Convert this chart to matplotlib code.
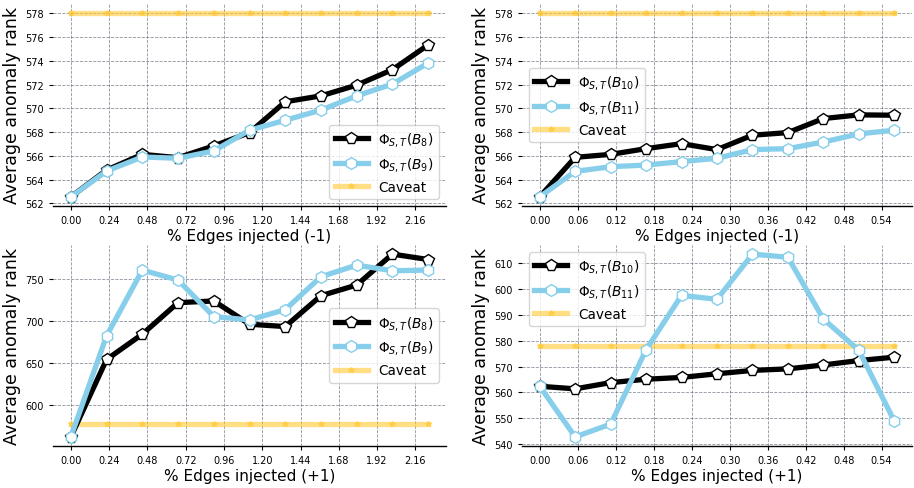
import numpy as np
import matplotlib
matplotlib.use('Agg')
import matplotlib.pyplot as plt

# Fraction of edges injected (%), 11 steps per experiment
x_b8 = np.linspace(0, 2.24, 11)
x_b10 = np.linspace(0, 0.56, 11)

# Average anomaly rank, edges injected with weight -1
b8_neg = [562.56, 564.81, 566.13, 565.85, 566.84, 567.96, 570.55, 571.05, 571.95, 573.25, 575.33]
b9_neg = [562.56, 564.73, 565.91, 565.80, 566.42, 568.16, 569.00, 569.85, 571.05, 572.04, 573.81]
b10_neg = [562.56, 565.88, 566.13, 566.61, 567.03, 566.53, 567.74, 567.96, 569.14, 569.45, 569.42]
b11_neg = [562.56, 564.70, 565.09, 565.23, 565.52, 565.80, 566.53, 566.61, 567.17, 567.85, 568.16]

# Average anomaly rank, edges injected with weight +1
b8_pos = [562.4, 654.6, 684.7, 722.3, 724.3, 696.6, 693.8, 730.6, 743.3, 780.1, 773.7]
b9_pos = [562.4, 682.7, 761.1, 749.2, 705.7, 701.7, 714.0, 753.2, 767.0, 760.3, 761.1]
b10_pos = [562.4, 561.4, 563.8, 565.1, 565.8, 567.2, 568.5, 569.1, 570.6, 572.3, 573.6]
b11_pos = [562.4, 542.9, 547.8, 576.5, 597.4, 595.9, 613.3, 612.1, 588.3, 576.3, 549.0]

caveat = 578.0

ticks_b8 = np.arange(0, 2.25, 0.24)
ticks_b10 = np.arange(0, 0.58, 0.06)

BLUE = "#87CEEB"
GOLD = "#FFC832"

fig = plt.figure(figsize=(9.14, 4.89), dpi=100)
W, H = 914, 489


def axes_px(left, top, right, bottom):
    return fig.add_axes([left / W, 1 - bottom / H, (right - left) / W, (bottom - top) / H])


panels = [
    (axes_px(53, 5, 446, 207), x_b8, ticks_b8, b8_neg, b9_neg, ("8", "9"), "% Edges injected (-1)", "lower right"),
    (axes_px(522, 5, 912, 207), x_b10, ticks_b10, b10_neg, b11_neg, ("10", "11"), "% Edges injected (-1)", "center left"),
    (axes_px(53, 246, 446, 447), x_b8, ticks_b8, b8_pos, b9_pos, ("8", "9"), "% Edges injected (+1)", "center right"),
    (axes_px(522, 246, 912, 447), x_b10, ticks_b10, b10_pos, b11_pos, ("10", "11"), "% Edges injected (+1)", "upper left"),
]

for ax, x, ticks, first, second, names, xlabel, loc in panels:
    ax.plot(x, first, color="black", linewidth=3.8, marker="p", markersize=8.5,
            markerfacecolor="white", markeredgecolor="black", markeredgewidth=1.0,
            label=r"$\Phi_{S,T}(B_{%s})$" % names[0], zorder=3)
    ax.plot(x, second, color=BLUE, linewidth=3.8, marker="h", markersize=8.5,
            markerfacecolor="white", markeredgecolor=BLUE, markeredgewidth=1.0,
            label=r"$\Phi_{S,T}(B_{%s})$" % names[1], zorder=3)
    ax.plot(x, [caveat] * len(x), color=GOLD, alpha=0.6, linewidth=3.8, marker="*",
            markersize=4, label="Caveat", zorder=2)

    ax.set_xticks(ticks)
    ax.set_xticklabels(["%.2f" % t for t in ticks])
    ax.tick_params(labelsize=7, length=3)
    ax.grid(True, linestyle="--", linewidth=0.6, color="#5a6473", alpha=0.7)
    ax.set_axisbelow(True)
    for side in ("top", "right", "left"):
        ax.spines[side].set_visible(False)
    ax.spines["bottom"].set_linewidth(1.0)
    ax.set_xlabel(xlabel, fontsize=11, labelpad=2)
    ax.set_ylabel("Average anomaly rank", fontsize=12.5, labelpad=3)
    ax.legend(loc=loc, fontsize=9.8, handlelength=2.4, framealpha=0.8)

plt.savefig("out.png", dpi=100)
plt.close(fig)
